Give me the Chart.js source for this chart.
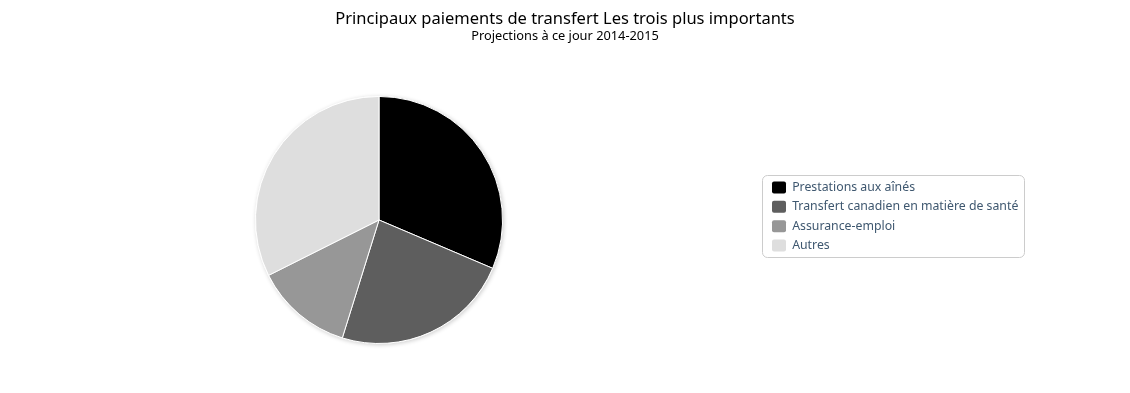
<!DOCTYPE html>
<html>
<head>
<meta charset="utf-8">
<script src="https://cdn.jsdelivr.net/npm/chart.js@4.4.1/dist/chart.umd.min.js"></script>
<style>
  html, body { margin: 0; padding: 0; background: #fff; overflow: hidden; }
  #wrap { position: absolute; left: -7px; top: 0; width: 1144px; height: 393px; }
</style>
</head>
<body>
<div id="wrap"><canvas id="pie"></canvas></div>
<script>
var categories = ['Prestations aux aînés', 'Transfert canadien en matière de santé', 'Assurance-emploi', 'Autres'];
var values = [31.4, 23.4, 12.8, 32.4];
var sliceColors = ['#000000', '#5e5e5e', '#979797', '#dedede'];

var FONT = '"Noto Sans", "DejaVu Sans", sans-serif';
var LEGEND_WIDTH = 372; // legend column incl. the empty right margin of the original
var LEGEND_LIFT = 3.5;

// soft shadow under the whole pie, taken from the first arc's geometry
var pieShadow = {
  id: 'pieShadow',
  beforeDatasetsDraw: function (chart) {
    var arc = chart.getDatasetMeta(0).data[0];
    if (!arc) return;
    var ctx = chart.ctx;
    ctx.save();
    ctx.shadowColor = 'rgba(0,0,0,0.2)';
    ctx.shadowBlur = 4;
    ctx.shadowOffsetX = 1;
    ctx.shadowOffsetY = 1;
    ctx.fillStyle = '#ffffff';
    ctx.beginPath();
    ctx.arc(arc.x, arc.y, arc.outerRadius + 0.5, 0, Math.PI * 2);
    ctx.fill();
    ctx.restore();
  }
};

// fixed legend width so the pie sits left of centre like the original
var legendWidth = {
  id: 'legendWidth',
  afterInit: function (chart) {
    var lg = chart.legend, fit = lg.fit;
    lg.fit = function () {
      fit.call(this);
      this.width = LEGEND_WIDTH;
    };
  },
  afterLayout: function (chart) {
    chart.legend.top -= LEGEND_LIFT;
    chart.legend.bottom -= LEGEND_LIFT;
  }
};

// rounded frame around the legend items
var legendFrame = {
  id: 'legendFrame',
  afterDraw: function (chart) {
    var lg = chart.legend, hb = lg && lg.legendHitBoxes;
    if (!hb || !hb.length) return;
    var l = Infinity, t = Infinity, r = -Infinity, b = -Infinity;
    hb.forEach(function (h) {
      l = Math.min(l, h.left); t = Math.min(t, h.top);
      r = Math.max(r, h.left + h.width); b = Math.max(b, h.top + h.height);
    });
    var ctx = chart.ctx;
    ctx.save();
    ctx.strokeStyle = '#cccccc';
    ctx.lineWidth = 1;
    ctx.beginPath();
    ctx.roundRect(Math.round(l - 10) + 0.5, Math.round(t - 6) + 0.5, Math.round(r - l + 16), Math.round(b - t + 12), 5);
    ctx.stroke();
    ctx.restore();
  }
};

new Chart(document.getElementById('pie'), {
  type: 'pie',
  data: {
    labels: categories,
    datasets: [{
      data: values,
      backgroundColor: sliceColors,
      borderColor: '#ffffff',
      borderWidth: 1,
      hoverOffset: 0
    }]
  },
  options: {
    responsive: true,
    maintainAspectRatio: false,
    animation: false,
    layout: { padding: { left: 0, right: 0, top: 0, bottom: 49 } },
    plugins: {
      title: {
        display: true,
        text: 'Principaux paiements de transfert Les trois plus importants',
        color: '#000000',
        font: { family: FONT, size: 16.5, weight: 'normal' },
        padding: { top: 8.9, bottom: 0 }
      },
      subtitle: {
        display: true,
        text: 'Projections à ce jour 2014-2015',
        color: '#000000',
        font: { family: FONT, size: 12.8, weight: 'normal' },
        padding: { top: 0, bottom: 51.9 }
      },
      legend: {
        position: 'right',
        fullSize: false,
        labels: {
          color: '#3e576f',
          font: { family: FONT, size: 12.3 },
          boxWidth: 14,
          boxHeight: 12,
          padding: 7,
          useBorderRadius: true,
          borderRadius: 2,
          generateLabels: function (chart) {
            var items = Chart.overrides.pie.plugins.legend.labels.generateLabels(chart);
            items.forEach(function (it) { it.lineWidth = 0; });
            return items;
          }
        }
      },
      tooltip: { enabled: false }
    }
  },
  plugins: [pieShadow, legendWidth, legendFrame]
});
</script>
</body>
</html>
